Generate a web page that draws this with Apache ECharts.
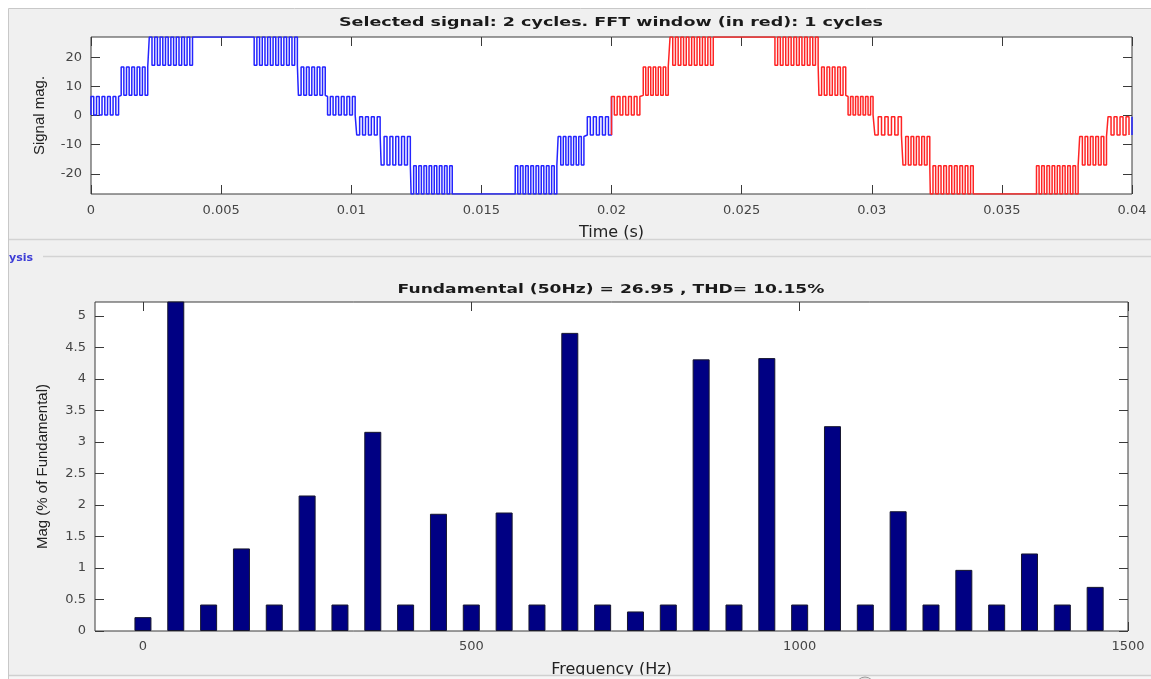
<!DOCTYPE html>
<html>
<head>
<meta charset="utf-8">
<script src="https://cdn.jsdelivr.net/npm/echarts@6/dist/echarts.min.js"></script>
<style>
html,body{margin:0;padding:0;background:#ffffff;}
#c{width:1151px;height:679px;}
</style>
</head>
<body>
<div id="c"></div>
<script>
// ---------- Time-domain signal ----------
// Each segment: start/end time (ms), the two levels the PWM toggles between, number of pulses seen
const segStart  = [0, 1.16, 2.24, 3.90, 6.27, 7.97, 9.09, 10.21, 11.15, 12.30, 13.88, 16.30, 17.95, 19.07,
                   20.00, 21.22, 22.25, 23.91, 26.28, 27.97, 29.09, 30.12, 31.20, 32.25, 33.90, 36.33, 37.99, 39.08];
const segEnd    = [1.06, 2.18, 3.90, 6.27, 7.93, 9.00, 10.15, 11.11, 12.27, 13.88, 16.30, 17.90, 18.94, 20.00,
                   21.09, 22.18, 23.91, 26.28, 27.94, 29.00, 30.05, 31.14, 32.23, 33.90, 36.33, 37.93, 39.02, 40.00];
const segLow    = [0.2, 6.9, 17.2, 26.9, 17.2, 6.9, 0.2, -6.7, -17.0, -26.9, -26.9, -26.9, -17.0, -6.7,
                   0.2, 6.9, 17.2, 26.9, 17.2, 6.9, 0.2, -6.7, -17.0, -26.9, -26.9, -26.9, -17.0, -6.7];
const segHigh   = [6.5, 16.6, 26.9, 26.9, 26.9, 16.6, 6.5, -0.4, -7.2, -17.2, -26.9, -17.2, -7.2, -0.4,
                   6.5, 16.6, 26.9, 26.9, 26.9, 16.6, 6.5, -0.4, -7.2, -17.2, -26.9, -17.2, -7.2, -0.4];
const segPulses = [5, 5, 8, 0, 8, 5, 5, 4, 5, 8, 0, 8, 5, 4,
                   5, 5, 8, 0, 8, 5, 5, 4, 5, 8, 0, 8, 5, 4];
const fftWindowMs = [20.0, 39.95];          // red part (1 cycle)
const signalRange = [-26.9, 26.9];
const timeTicks   = [0, 0.005, 0.01, 0.015, 0.02, 0.025, 0.03, 0.035, 0.04];
const signalTicks = [-20, -10, 0, 10, 20];

// ---------- FFT spectrum ----------
const freqs = [0, 50, 100, 150, 200, 250, 300, 350, 400, 450, 500, 550, 600, 650, 700,
               750, 800, 850, 900, 950, 1000, 1050, 1100, 1150, 1200, 1250, 1300, 1350, 1400, 1450];
const mags  = [0.22, 100, 0.42, 1.31, 0.42, 2.15, 0.42, 3.16, 0.42, 1.86, 0.42, 1.88, 0.42, 4.73, 0.42,
               0.31, 0.42, 4.31, 0.42, 4.33, 0.42, 3.25, 0.42, 1.90, 0.42, 0.97, 0.42, 1.23, 0.42, 0.70];
const freqRange = [-73, 1500];
const magRange  = [0, 5.22];
const freqTicks = [0, 500, 1000, 1500];
const magTicks  = [0, 0.5, 1, 1.5, 2, 2.5, 3, 3.5, 4, 4.5, 5];

const titleTop    = 'Selected signal: 2 cycles. FFT window (in red): 1 cycles';
const titleBottom = 'Fundamental (50Hz) = 26.95 , THD= 10.15%';

// Build the line points from the segment table
function buildSignal() {
  const pts = [];
  for (let i = 0; i < segStart.length; i++) {
    const a = segStart[i], b = segEnd[i], lo = segLow[i], hi = segHigh[i], n = segPulses[i];
    if (n === 0) { pts.push([a, lo], [b, lo]); continue; }
    const prev = pts.length ? pts[pts.length - 1][1] : 0;
    const base = Math.abs(prev - lo) <= Math.abs(prev - hi) ? lo : hi;
    const other = base === lo ? hi : lo;
    const dt = (b - a) / n;
    for (let k = 0; k < n; k++) {
      const t0 = a + k * dt, tm = a + (k + 0.5) * dt;
      pts.push([t0, base], [t0, other], [tm, other], [tm, base]);
    }
    const next = i + 1 < segStart.length ? (segLow[i + 1] + segHigh[i + 1]) / 2 : 0;
    const endLv = Math.abs(next - lo) <= Math.abs(next - hi) ? lo : hi;
    pts.push([b, base]);
    if (endLv !== base) pts.push([b, endLv]);
  }
  return pts.map(p => [p[0] / 1000, p[1]]);
}
const signalAll = buildSignal();
const w0 = fftWindowMs[0] / 1000, w1 = fftWindowMs[1] / 1000;
const signalWin = signalAll.filter(p => p[0] >= w0 - 1e-9 && p[0] <= w1);
const signalBlue = signalAll.filter(p => p[0] <= w0 + 1e-9)
  .concat([null])
  .concat(signalAll.filter(p => p[0] >= w1));
const barData = freqs.map((f, i) => [f, mags[i]]);

const AX = '#3a3a3a';
const LBL = '#454545';
function tickCfg(vals) {
  return { show: true, inside: true, length: 9, customValues: vals, lineStyle: { color: AX, width: 1 } };
}
function labelCfg(vals, margin, extra) {
  return Object.assign({ show: true, customValues: vals, margin: margin, color: LBL,
    fontFamily: 'DejaVu Sans', fontSize: 13 }, extra || {});
}
const noLine = { show: false, onZero: false };
const noSplit = { show: false };
const nameStyleH = { fontFamily: 'DejaVu Sans', fontSize: 16, color: '#222' };
const nameStyleV = { fontFamily: 'Liberation Sans', fontSize: 15, color: '#222' };

const chart = echarts.init(document.getElementById('c'), null, { renderer: 'canvas' });
chart.setOption({
  animation: false,
  backgroundColor: 'transparent',
  grid: [
    { left: 91, top: 37, width: 1041, height: 157, show: true, backgroundColor: '#ffffff',
      borderColor: AX, borderWidth: 1, containLabel: false },
    { left: 95, top: 302, width: 1033, height: 331, show: true, backgroundColor: '#ffffff',
      borderColor: AX, borderWidth: 1, containLabel: false }
  ],
  xAxis: [
    { gridIndex: 0, type: 'value', position: 'bottom', min: 0, max: 0.04,
      axisLine: noLine, splitLine: noSplit, axisTick: tickCfg(timeTicks),
      axisLabel: labelCfg(timeTicks, 10, { formatter: v => String(+v.toFixed(4)) }),
      name: 'Time (s)', nameLocation: 'middle', nameGap: 31, nameTextStyle: nameStyleH },
    { gridIndex: 0, type: 'value', position: 'top', min: 0, max: 0.04,
      axisLine: noLine, splitLine: noSplit, axisTick: tickCfg(timeTicks), axisLabel: { show: false } },
    { gridIndex: 1, type: 'value', position: 'bottom', min: freqRange[0], max: freqRange[1],
      axisLine: noLine, splitLine: noSplit, axisTick: tickCfg(freqTicks),
      axisLabel: labelCfg(freqTicks, 9, { formatter: v => String(v) }),
      name: 'Frequency (Hz)', nameLocation: 'middle', nameGap: 31, nameTextStyle: nameStyleH },
    { gridIndex: 1, type: 'value', position: 'top', min: freqRange[0], max: freqRange[1],
      axisLine: noLine, splitLine: noSplit, axisTick: tickCfg(freqTicks), axisLabel: { show: false } }
  ],
  yAxis: [
    { gridIndex: 0, type: 'value', position: 'left', min: signalRange[0], max: signalRange[1],
      axisLine: noLine, splitLine: noSplit, axisTick: tickCfg(signalTicks),
      axisLabel: labelCfg(signalTicks, 9),
      name: 'Signal mag.', nameLocation: 'middle', nameGap: 44, nameTextStyle: nameStyleV },
    { gridIndex: 0, type: 'value', position: 'right', min: signalRange[0], max: signalRange[1],
      axisLine: noLine, splitLine: noSplit, axisTick: tickCfg(signalTicks), axisLabel: { show: false } },
    { gridIndex: 1, type: 'value', position: 'left', min: magRange[0], max: magRange[1],
      axisLine: noLine, splitLine: noSplit, axisTick: tickCfg(magTicks),
      axisLabel: labelCfg(magTicks, 9),
      name: 'Mag (% of Fundamental)', nameLocation: 'middle', nameGap: 45, nameTextStyle: nameStyleV },
    { gridIndex: 1, type: 'value', position: 'right', min: magRange[0], max: magRange[1],
      axisLine: noLine, splitLine: noSplit, axisTick: tickCfg(magTicks), axisLabel: { show: false } }
  ],
  series: [
    { type: 'line', xAxisIndex: 0, yAxisIndex: 0, data: signalBlue, showSymbol: false, symbol: 'none',
      connectNulls: false, lineStyle: { color: '#2424ff', width: 1.5 }, z: 3 },
    { type: 'line', xAxisIndex: 0, yAxisIndex: 0, data: signalWin, showSymbol: false, symbol: 'none',
      lineStyle: { color: '#ff2424', width: 1.5 }, z: 4 },
    { type: 'bar', xAxisIndex: 2, yAxisIndex: 2, data: barData, barWidth: 17, clip: true,
      itemStyle: { color: '#000083', borderColor: '#16162e', borderWidth: 1 } }
  ],
  graphic: [
    { type: 'rect', z: -10, shape: { x: 8.5, y: 8.5, width: 1150, height: 680 },
      style: { fill: '#f0f0f0', stroke: '#c8c8c8', lineWidth: 1 } },
    { type: 'line', z: -9, shape: { x1: 9, y1: 239.5, x2: 1151, y2: 239.5 },
      style: { stroke: '#d3d3d3', lineWidth: 1.5 } },
    { type: 'line', z: -9, shape: { x1: 43, y1: 256.5, x2: 1151, y2: 256.5 },
      style: { stroke: '#d3d3d3', lineWidth: 1.5 } },
    { type: 'text', z: -9, x: 9, y: 258,
      style: { text: 'ysis', fill: '#3c3cd6', font: 'bold 11px "DejaVu Sans"', verticalAlign: 'middle' } },
    { type: 'text', z: 20, x: 611, y: 23, scaleX: 1.4, scaleY: 1,
      style: { text: titleTop, fill: '#1a1a1a', font: 'bold 12.5px "DejaVu Sans"',
               align: 'center', verticalAlign: 'middle' } },
    { type: 'text', z: 20, x: 611, y: 290, scaleX: 1.37, scaleY: 1,
      style: { text: titleBottom, fill: '#1a1a1a', font: 'bold 12.5px "DejaVu Sans"',
               align: 'center', verticalAlign: 'middle' } },
    { type: 'rect', z: 100, shape: { x: 9, y: 676, width: 1142, height: 4 },
      style: { fill: '#f6f6f6' } },
    { type: 'line', z: 101, shape: { x1: 9, y1: 675.5, x2: 1151, y2: 675.5 },
      style: { stroke: '#d0d0d0', lineWidth: 1.5 } },
    { type: 'circle', z: 101, shape: { cx: 865, cy: 686, r: 9 },
      style: { fill: '#e2e2e2', stroke: '#9a9a9a', lineWidth: 1 } }
  ]
});
</script>
</body>
</html>
